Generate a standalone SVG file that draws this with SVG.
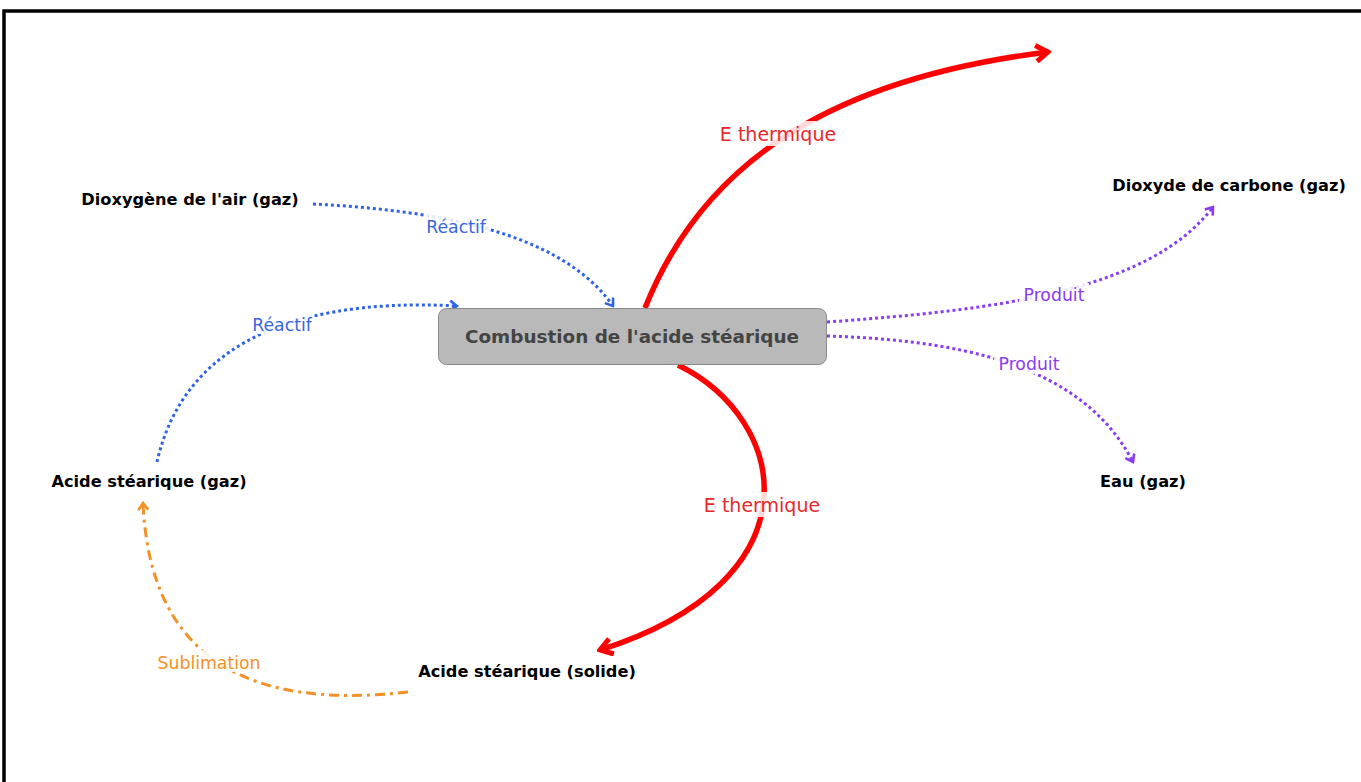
<svg xmlns="http://www.w3.org/2000/svg" width="1361" height="782" viewBox="0 0 1361 782">
<defs>
<style>
.node text{font-family:"DejaVu Sans","Liberation Sans",sans-serif;font-weight:bold;font-size:16.2px;fill:#000}
.lbl{font-family:"DejaVu Sans","Liberation Sans",sans-serif;font-size:17.3px;text-anchor:middle}
.lbl.big{font-size:19px}
.lbg{fill:#fff;opacity:0.85}
.blue{fill:none;stroke:#2f63e6;stroke-width:3;stroke-dasharray:3 3}
.purple{fill:none;stroke:#8a3cf2;stroke-width:3;stroke-dasharray:3 3}
.red{fill:none;stroke:#ff0000;stroke-width:5.5}
.orange{fill:none;stroke:#f39126;stroke-width:3;stroke-dasharray:10 5 3 5}
</style>
<marker id="mBlue" viewBox="0 0 12 12" refX="10" refY="6" markerWidth="12" markerHeight="12" markerUnits="userSpaceOnUse" orient="auto"><path d="M3,1 L10,6 L3,11" fill="none" stroke="#2f63e6" stroke-width="2.6"/></marker>
<marker id="mPurple" viewBox="0 0 12 12" refX="10" refY="6" markerWidth="12" markerHeight="12" markerUnits="userSpaceOnUse" orient="auto"><path d="M3,1 L10,6 L3,11" fill="none" stroke="#8a3cf2" stroke-width="2.6"/></marker>
<marker id="mOrange" viewBox="0 0 12 12" refX="10" refY="6" markerWidth="12" markerHeight="12" markerUnits="userSpaceOnUse" orient="auto"><path d="M3,1 L10,6 L3,11" fill="none" stroke="#f39126" stroke-width="2.6"/></marker>
<marker id="mRed" viewBox="0 0 20 20" refX="17" refY="10" markerWidth="20" markerHeight="20" markerUnits="userSpaceOnUse" orient="auto"><path d="M5,2 L17,10 L5,18" fill="none" stroke="#ff0000" stroke-width="5"/></marker>
</defs>
<rect x="0" y="0" width="1361" height="782" fill="#fff"/>
<rect x="4" y="11" width="1400" height="800" fill="none" stroke="#000" stroke-width="3.5"/>

<g id="connectors">
<path class="blue" d="M313,204 C430,210 560,230 613,306" marker-end="url(#mBlue)"/>
<path class="blue" d="M157,462 C180,360 270,296 457,306" marker-end="url(#mBlue)"/>
<path class="red" d="M645,308 C700,170 820,80 1048,52" marker-end="url(#mRed)"/>
<path class="red" d="M678,365 C790,420 820,580 600,650" marker-end="url(#mRed)"/>
<path class="purple" d="M827,322 C1000,310 1150,290 1213,207" marker-end="url(#mPurple)"/>
<path class="purple" d="M827,336 C950,340 1080,360 1133,462" marker-end="url(#mPurple)"/>
<path class="orange" d="M408,692 C250,710 150,660 143,503" marker-end="url(#mOrange)"/>

<rect class="lbg" x="424" y="214" width="64" height="22"/>
<text class="lbl" x="456" y="233" fill="#3a66e0">Réactif</text>
<rect class="lbg" x="250" y="312" width="64" height="22"/>
<text class="lbl" x="282" y="331" fill="#3a66e0">Réactif</text>
<rect class="lbg" x="716" y="121" width="124" height="25"/>
<text class="lbl big" x="778" y="141" fill="#e8282a">E thermique</text>
<rect class="lbg" x="700" y="492" width="124" height="25"/>
<text class="lbl big" x="762" y="512" fill="#e8282a">E thermique</text>
<rect class="lbg" x="1019" y="283" width="70" height="22"/>
<text class="lbl" x="1054" y="301" fill="#8a3cf2">Produit</text>
<rect class="lbg" x="994" y="352" width="70" height="22"/>
<text class="lbl" x="1029" y="370" fill="#8a3cf2">Produit</text>
<rect class="lbg" x="155" y="650" width="108" height="22"/>
<text class="lbl" x="209" y="669" fill="#f39126">Sublimation</text>
</g>

<g id="combustion" class="node">
<rect x="438.5" y="308.5" width="388" height="56" rx="8" ry="8" fill="#b9b9b9" stroke="#8a8a8a" stroke-width="1"/>
<text x="632" y="343" text-anchor="middle" style="font-size:18.4px;fill:#444">Combustion de l'acide stéarique</text>
</g>
<g id="dioxygene" class="node"><text x="190" y="205" text-anchor="middle">Dioxygène de l'air (gaz)</text></g>
<g id="dioxyde-carbone" class="node"><text x="1229" y="191" text-anchor="middle">Dioxyde de carbone (gaz)</text></g>
<g id="eau" class="node"><text x="1143" y="487" text-anchor="middle">Eau (gaz)</text></g>
<g id="acide-gaz" class="node"><text x="149" y="487" text-anchor="middle">Acide stéarique (gaz)</text></g>
<g id="acide-solide" class="node"><text x="527" y="677" text-anchor="middle">Acide stéarique (solide)</text></g>
</svg>
